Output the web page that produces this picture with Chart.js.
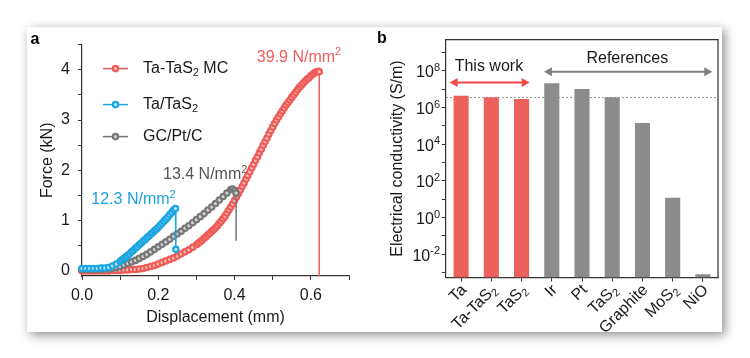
<!DOCTYPE html>
<html>
<head>
<meta charset="utf-8">
<script src="https://cdn.jsdelivr.net/npm/chart.js@4.4.1/dist/chart.umd.min.js"></script>
<style>
  html, body { margin: 0; padding: 0; background: #fff; }
  body { width: 750px; height: 358px; position: relative; overflow: hidden; }
  #frame { position: absolute; left: 27px; top: 27px; width: 695px; height: 305px; background: #fff;
           box-shadow: 3px 3px 10px rgba(0, 0, 0, 0.45); }
  #chartA { position: absolute; left: 0; top: 0; }
  #chartB { position: absolute; left: 348px; top: 0; }
</style>
</head>
<body>
<div id="frame">
  <canvas id="chartA" width="348" height="305"></canvas>
  <canvas id="chartB" width="347" height="305"></canvas>
</div>
<script>
// ---- panel a: force vs displacement ----
const seriesNames = ['Ta-TaS₂ MC', 'Ta/TaS₂', 'GC/Pt/C'];

const redX = [0, 0.01, 0.02, 0.03, 0.04, 0.05, 0.06, 0.07, 0.08, 0.09,
  0.10, 0.11, 0.12, 0.13, 0.14, 0.15, 0.16, 0.17, 0.18, 0.19,
  0.20, 0.21, 0.22, 0.23, 0.24, 0.25, 0.26, 0.27, 0.28, 0.29,
  0.30, 0.305, 0.31, 0.315, 0.32, 0.325, 0.33, 0.335, 0.34, 0.345,
  0.35, 0.355, 0.36, 0.365, 0.37, 0.375, 0.38, 0.385, 0.39, 0.395,
  0.40, 0.405, 0.41, 0.415, 0.42, 0.425, 0.43, 0.435, 0.44, 0.445,
  0.45, 0.455, 0.46, 0.465, 0.47, 0.475, 0.48, 0.485, 0.49, 0.495,
  0.50, 0.505, 0.51, 0.515, 0.52, 0.525, 0.53, 0.535, 0.54, 0.545,
  0.55, 0.555, 0.56, 0.565, 0.57, 0.575, 0.58, 0.585, 0.59, 0.595,
  0.60, 0.605, 0.61, 0.615, 0.62, 0.622];
const redF = [0.00, 0.00, 0.00, 0.00, 0.00, 0.00, 0.00, 0.00, 0.01, 0.01,
  0.01, 0.02, 0.02, 0.03, 0.03, 0.04, 0.05, 0.07, 0.09, 0.11,
  0.14, 0.17, 0.20, 0.23, 0.26, 0.30, 0.34, 0.38, 0.42, 0.47,
  0.52, 0.55, 0.58, 0.61, 0.65, 0.68, 0.72, 0.75, 0.79, 0.82,
  0.86, 0.90, 0.95, 0.99, 1.04, 1.09, 1.15, 1.21, 1.27, 1.33,
  1.40, 1.47, 1.54, 1.61, 1.68, 1.75, 1.83, 1.90, 1.97, 2.05,
  2.12, 2.20, 2.27, 2.35, 2.42, 2.50, 2.57, 2.64, 2.72, 2.79,
  2.86, 2.93, 3.00, 3.06, 3.12, 3.18, 3.24, 3.30, 3.35, 3.40,
  3.45, 3.50, 3.55, 3.60, 3.65, 3.69, 3.73, 3.77, 3.81, 3.84,
  3.88, 3.91, 3.94, 3.96, 3.97, 3.96];
const redFail = [0.622, -0.1];

const blueX = [0, 0.01, 0.02, 0.03, 0.04, 0.05, 0.06, 0.07, 0.08, 0.09,
  0.10, 0.105, 0.11, 0.115, 0.12, 0.125, 0.13, 0.135, 0.14, 0.145,
  0.15, 0.155, 0.16, 0.165, 0.17, 0.175, 0.18, 0.185, 0.19, 0.195,
  0.20, 0.205, 0.21, 0.215, 0.22, 0.225, 0.23, 0.235, 0.24, 0.245];
const blueF = [0.05, 0.05, 0.05, 0.05, 0.05, 0.06, 0.06, 0.07, 0.10, 0.14,
  0.19, 0.22, 0.25, 0.28, 0.31, 0.34, 0.38, 0.41, 0.45, 0.48,
  0.52, 0.55, 0.59, 0.62, 0.66, 0.69, 0.73, 0.76, 0.80, 0.83,
  0.87, 0.91, 0.95, 0.99, 1.03, 1.07, 1.12, 1.16, 1.21, 1.24];
const blueFail = [0.246, 0.43];

const greyX = [0, 0.01, 0.02, 0.03, 0.04, 0.05, 0.06, 0.07, 0.08, 0.09,
  0.10, 0.11, 0.12, 0.13, 0.14, 0.15, 0.16, 0.17, 0.18, 0.19,
  0.20, 0.21, 0.22, 0.23, 0.24, 0.25, 0.26, 0.27, 0.28, 0.29,
  0.30, 0.31, 0.32, 0.33, 0.34, 0.35, 0.36, 0.37, 0.38, 0.39,
  0.395, 0.40, 0.404];
const greyF = [0.03, 0.03, 0.03, 0.03, 0.03, 0.03, 0.04, 0.04, 0.05, 0.07,
  0.09, 0.12, 0.15, 0.18, 0.21, 0.25, 0.29, 0.33, 0.38, 0.43,
  0.48, 0.53, 0.58, 0.63, 0.69, 0.74, 0.79, 0.85, 0.90, 0.96,
  1.02, 1.08, 1.14, 1.21, 1.27, 1.34, 1.41, 1.48, 1.55, 1.62,
  1.63, 1.60, 1.55];
const greyFail = [0.404, 0.6];

const strengthText = ['39.9 N/mm²', '12.3 N/mm²', '13.4 N/mm²'];

const xTicksA = [0, 0.1, 0.2, 0.3, 0.4, 0.5, 0.6, 0.7];
const xLabelsA = [0, 0.2, 0.4, 0.6];
const yTicksA = [0, 0.5, 1, 1.5, 2, 2.5, 3, 3.5, 4, 4.5];
const yLabelsA = [0, 1, 2, 3, 4];

// ---- panel b: electrical conductivity ----
const materials = ['Ta', 'Ta-TaS₂', 'TaS₂', 'Ir', 'Pt', 'TaS₂', 'Graphite', 'MoS₂', 'NiO'];
const conductivity = [4.4e6, 3.6e6, 2.9e6, 2.1e7, 1.0e7, 3.6e6, 1.4e5, 12, 8e-4];
const source = ['this', 'this', 'this', 'ref', 'ref', 'ref', 'ref', 'ref', 'ref'];
const groupText = ['This work', 'References'];
const dashedLevel = 3.6e6;
const decadeExps = [-3, -2, -1, 0, 1, 2, 3, 4, 5, 6, 7, 8, 9];
const labelledExps = [-2, 0, 2, 4, 6, 8];

const FONT = '"Liberation Sans", Arial, sans-serif';
const RED = '#EF5B57';
const BLUE = '#1CA6E2';
const GREY = '#777777';
const TINT = {[RED]: '#F9C4C2', [BLUE]: '#BDE6F7', [GREY]: '#D4D4D4'};
const BAR_RED = '#EC615B';
const BAR_GREY = '#8C8C8C';
const AXIS = '#333';
const TEXT = '#1a1a1a';

Chart.defaults.font.family = FONT;
Chart.defaults.font.size = 16;
Chart.defaults.color = TEXT;

const SUP = {'-': '⁻', '0': '⁰', '1': '¹', '2': '²', '3': '³', '4': '⁴',
             '5': '⁵', '6': '⁶', '7': '⁷', '8': '⁸', '9': '⁹'};
const SUB = {'₂': '2'};
const SUP_BACK = {};
Object.keys(SUP).forEach(k => { SUP_BACK[SUP[k]] = k; });

function near(list, v) {
    return list.some(t => Math.abs(t - v) < 1e-6);
}

// split a label into normal / subscript / superscript runs
function parseRich(text) {
    const runs = [];
    for (const ch of text) {
        let kind = 'n', c = ch;
        if (SUB[ch]) { kind = 'sub'; c = SUB[ch]; }
        else if (SUP_BACK[ch]) { kind = 'sup'; c = SUP_BACK[ch]; }
        const last = runs[runs.length - 1];
        if (last && last.kind === kind) last.t += c;
        else runs.push({t: c, kind: kind});
    }
    return runs;
}

// draws rich text; x is the left, centre or right edge depending on align
function drawRich(ctx, text, x, y, size, align) {
    const runs = parseRich(text);
    const small = Math.round(size * 0.68);
    const fontFor = r => (r.kind === 'n' ? size : small) + 'px ' + FONT;
    let total = 0;
    runs.forEach(r => { ctx.font = fontFor(r); r.w = ctx.measureText(r.t).width; total += r.w; });
    let cx = align === 'right' ? x - total : align === 'center' ? x - total / 2 : x;
    ctx.textAlign = 'left';
    ctx.textBaseline = 'middle';
    runs.forEach(r => {
        ctx.font = fontFor(r);
        const dy = r.kind === 'sub' ? size * 0.3 : r.kind === 'sup' ? -size * 0.3 : 0;
        ctx.fillText(r.t, cx, y + dy);
        cx += r.w;
    });
}

function curve(xs, ys, fail, color, failMarker) {
    const data = xs.map((x, i) => ({x: x, y: ys[i]}));
    data.push({x: fail[0], y: fail[1]});
    const last = data.length - 1;
    return {
        data: data,
        showLine: true,
        borderColor: color,
        borderWidth: 1.5,
        pointRadius: ctx => (ctx.dataIndex === last && !failMarker) ? 0 : 2.7,
        pointBorderColor: color,
        pointBackgroundColor: TINT[color],
        pointBorderWidth: 2.2,
        clip: 6
    };
}

// text labels, legend and panel letter for panel a
const annotA = {
    id: 'annotA',
    afterDraw(chart) {
        const {ctx, chartArea, scales: {x, y}} = chart;
        ctx.save();
        const spots = [[0.569, 4.25, '#F25C5C'], [0.135, 1.42, '#1AA3E0'], [0.323, 1.92, '#555']];
        strengthText.forEach((t, i) => {
            ctx.fillStyle = spots[i][2];
            drawRich(ctx, t, x.getPixelForValue(spots[i][0]), y.getPixelForValue(spots[i][1]), 16, 'center');
        });

        // legend
        const colors = [RED, BLUE, GREY];
        const rows = [24, 60, 92];
        seriesNames.forEach((name, i) => {
            const yy = chartArea.top + rows[i];
            const x0 = chartArea.left + 21;
            ctx.strokeStyle = colors[i];
            ctx.lineWidth = 1.5;
            ctx.beginPath();
            ctx.moveTo(x0, yy);
            ctx.lineTo(x0 + 25, yy);
            ctx.stroke();
            ctx.beginPath();
            ctx.arc(x0 + 12.5, yy, 2.7, 0, Math.PI * 2);
            ctx.fillStyle = TINT[colors[i]];
            ctx.fill();
            ctx.lineWidth = 2.2;
            ctx.stroke();
            ctx.fillStyle = TEXT;
            drawRich(ctx, name, chartArea.left + 61, yy, 16, 'left');
        });

        ctx.font = 'bold 16px ' + FONT;
        ctx.textAlign = 'center';
        ctx.textBaseline = 'middle';
        ctx.fillStyle = '#000';
        ctx.fillText('a', 8, 13);
        ctx.restore();
    }
};

new Chart(document.getElementById('chartA'), {
    type: 'scatter',
    data: {
        datasets: [
            curve(blueX, blueF, blueFail, BLUE, true),
            curve(greyX, greyF, greyFail, GREY, false),
            curve(redX, redF, redFail, RED, false)
        ]
    },
    options: {
        responsive: false,
        animation: false,
        events: [],
        layout: { padding: { left: 0, right: 26, top: 12, bottom: 0 } },
        plugins: { legend: { display: false }, tooltip: { enabled: false } },
        scales: {
            x: {
                type: 'linear',
                min: 0,
                max: 0.7,
                afterFit: s => { s.height = 56; },
                afterBuildTicks: s => { s.ticks = xTicksA.map(v => ({value: v})); },
                ticks: {
                    autoSkip: false,
                    padding: 6,
                    callback: v => near(xLabelsA, v) ? v.toFixed(1) : ''
                },
                grid: { drawOnChartArea: false, tickLength: 4, color: AXIS },
                border: { color: AXIS, width: 1.2 },
                title: { display: true, text: 'Displacement (mm)', padding: { bottom: 5 } }
            },
            y: {
                min: -0.1,
                max: 4.5,
                afterFit: s => { s.width = 55; },
                afterBuildTicks: s => { s.ticks = yTicksA.map(v => ({value: v})); },
                ticks: {
                    autoSkip: false,
                    padding: 8,
                    callback: v => near(yLabelsA, v) ? String(v) : ''
                },
                grid: { drawOnChartArea: false, tickLength: 4, color: AXIS },
                border: { color: AXIS, width: 1.2 },
                title: { display: true, text: 'Force (kN)', padding: { top: 10.5 } }
            }
        }
    },
    plugins: [annotA]
});

// ---- panel b drawing helpers ----
function doubleArrow(ctx, x1, x2, y, color) {
    const head = 8, half = 4.5;
    ctx.strokeStyle = color;
    ctx.fillStyle = color;
    ctx.lineWidth = 2;
    ctx.beginPath();
    ctx.moveTo(x1 + head - 1, y);
    ctx.lineTo(x2 - head + 1, y);
    ctx.stroke();
    ctx.beginPath();
    ctx.moveTo(x1, y);
    ctx.lineTo(x1 + head, y - half);
    ctx.lineTo(x1 + head, y + half);
    ctx.closePath();
    ctx.fill();
    ctx.beginPath();
    ctx.moveTo(x2, y);
    ctx.lineTo(x2 - head, y - half);
    ctx.lineTo(x2 - head, y + half);
    ctx.closePath();
    ctx.fill();
}

function expLabel(e) {
    return '10' + String(e).split('').map(c => SUP[c]).join('');
}

const annotB = {
    id: 'annotB',
    beforeDatasetsDraw(chart) {
        const {ctx, chartArea, scales: {y}} = chart;
        const yy = Math.round(y.getPixelForValue(dashedLevel)) + 0.5;
        ctx.save();
        ctx.strokeStyle = '#9a9a9a';
        ctx.lineWidth = 1;
        ctx.setLineDash([2, 2]);
        ctx.beginPath();
        ctx.moveTo(chartArea.left, yy);
        ctx.lineTo(chartArea.right, yy);
        ctx.stroke();
        ctx.restore();
    },
    afterDraw(chart) {
        const {ctx, chartArea, scales: {x, y}} = chart;
        ctx.save();
        // close the box
        ctx.strokeStyle = AXIS;
        ctx.lineWidth = 1.2;
        ctx.beginPath();
        ctx.moveTo(chartArea.left, chartArea.top);
        ctx.lineTo(chartArea.right, chartArea.top);
        ctx.lineTo(chartArea.right, chartArea.bottom);
        ctx.stroke();

        doubleArrow(ctx, x.getPixelForValue(-0.38), x.getPixelForValue(2.27), y.getPixelForValue(2.3e7), '#F04848');
        doubleArrow(ctx, x.getPixelForValue(2.74), x.getPixelForValue(8.31), y.getPixelForValue(8.9e7), '#808080');

        ctx.fillStyle = TEXT;
        drawRich(ctx, groupText[0], x.getPixelForValue(0.92), y.getPixelForValue(1.76e8), 16, 'center');
        drawRich(ctx, groupText[1], x.getPixelForValue(5.5), y.getPixelForValue(4.35e8), 16, 'center');

        // y tick labels with real superscripts
        labelledExps.forEach(e => {
            drawRich(ctx, expLabel(e), chartArea.left - 6, y.getPixelForValue(Math.pow(10, e)) + 2, 16, 'right');
        });

        // rotated category labels with real subscripts
        materials.forEach((m, i) => {
            ctx.save();
            ctx.translate(x.getPixelForTick(i) + 3, chartArea.bottom + 10);
            ctx.rotate(-Math.PI / 4);
            drawRich(ctx, m, 0, 0, 16, 'right');
            ctx.restore();
        });

        ctx.font = 'bold 16px ' + FONT;
        ctx.textAlign = 'center';
        ctx.textBaseline = 'middle';
        ctx.fillStyle = '#000';
        ctx.fillText('b', 7, 12);
        ctx.restore();
    }
};

new Chart(document.getElementById('chartB'), {
    type: 'bar',
    data: {
        labels: materials,
        datasets: [{
            data: conductivity,
            backgroundColor: source.map(s => s === 'this' ? BAR_RED : BAR_GREY),
            barPercentage: 0.5,
            categoryPercentage: 1.0
        }]
    },
    options: {
        responsive: false,
        animation: false,
        events: [],
        layout: { padding: { left: 0, right: 4, top: 11.5, bottom: 0 } },
        plugins: { legend: { display: false }, tooltip: { enabled: false } },
        scales: {
            x: {
                afterFit: s => { s.height = 54.5; },
                ticks: { autoSkip: false, maxRotation: 0, callback: () => '' },
                grid: { drawOnChartArea: false, offset: false, tickLength: 4, color: AXIS },
                border: { color: AXIS, width: 1.2 }
            },
            y: {
                type: 'logarithmic',
                min: 5.3e-4,
                max: 5e9,
                afterFit: s => { s.width = 71; },
                afterBuildTicks: s => { s.ticks = decadeExps.map(e => ({value: Math.pow(10, e)})); },
                ticks: { autoSkip: false, callback: () => '' },
                grid: { drawOnChartArea: false, tickLength: 4, color: AXIS },
                border: { color: AXIS, width: 1.2 },
                title: { display: true, text: 'Electrical conductivity (S/m)', padding: { top: 13 } }
            }
        }
    },
    plugins: [annotB]
});
</script>
</body>
</html>
